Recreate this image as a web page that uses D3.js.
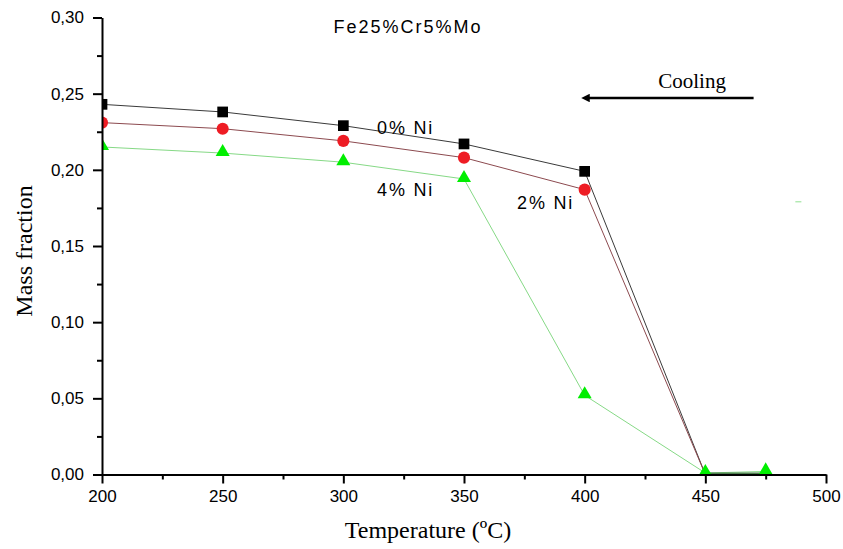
<!DOCTYPE html>
<html>
<head>
<meta charset="utf-8">
<script src="https://cdn.jsdelivr.net/npm/d3@7"></script>
<style>
  body { margin: 0; background: #fff; }
  svg { display: block; }
</style>
</head>
<body>
<div id="chart"></div>
<script>
// temperatures (°C) and mass fractions
const temps0 = [200, 250, 300, 350, 400, 450];
const ni0 = [0.243, 0.238, 0.229, 0.217, 0.199, 0.0];
const temps2 = [200, 250, 300, 350, 400, 450];
const ni2 = [0.231, 0.227, 0.219, 0.208, 0.187, 0.0];
const temps4 = [200, 250, 300, 350, 400, 450, 475];
const ni4 = [0.215, 0.211, 0.205, 0.194, 0.052, 0.001, 0.002];

const xTicks = [200, 250, 300, 350, 400, 450, 500];
const yTicks = [0, 0.05, 0.10, 0.15, 0.20, 0.25, 0.30];

const W = 843, H = 549;
const margin = { left: 102, right: 17, top: 17.5, bottom: 74.5 };

const svg = d3.select("#chart").append("svg")
    .attr("width", W).attr("height", H)
    .attr("viewBox", [0, 0, W, H]);

const x = d3.scaleLinear().domain([200, 500]).range([margin.left, W - margin.right]);
const y = d3.scaleLinear().domain([0, 0.30]).range([H - margin.bottom, margin.top]);

const defs = svg.append("defs");
defs.append("clipPath").attr("id", "plot")
    .append("rect")
    .attr("x", x(200)).attr("y", 0)
    .attr("width", x(500) - x(200) + 10).attr("height", y(0) + 10);

// 0 and 2 % Ni have no marker drawn at their zero point
const series = [
    { t: temps0, v: ni0, line: "#3a3a3a", fill: "#000000", shape: d3.symbolSquare, size: 115, zeroMark: false },
    { t: temps2, v: ni2, line: "#8c4a4f", fill: "#ee1c24", shape: d3.symbolCircle, size: 115, zeroMark: false },
    { t: temps4, v: ni4, line: "#86d986", fill: "#00ee00", shape: d3.symbolTriangle, size: 85, zeroMark: true }
];

const plot = svg.append("g").attr("clip-path", "url(#plot)");

const line = d3.line().x(d => x(d[0])).y(d => y(d[1]));

series.forEach(s => {
    const pts = s.t.map((t, i) => [t, s.v[i]]);
    plot.append("path")
        .datum(pts)
        .attr("fill", "none")
        .attr("stroke", s.line)
        .attr("stroke-width", 1)
        .attr("d", line);
});

// darker segment of the 4% line running along the axis
plot.append("line")
    .attr("x1", x(450)).attr("y1", y(0.0007))
    .attr("x2", x(475)).attr("y2", y(0.0007))
    .attr("stroke", "#4f7f4f").attr("stroke-width", 2);

series.forEach(s => {
    plot.selectAll(null)
        .data(s.t.map((t, i) => [t, s.v[i]]).filter(d => s.zeroMark || d[1] > 0))
        .join("path")
        .attr("transform", d => `translate(${x(d[0])},${y(d[1]) + (s.shape === d3.symbolTriangle ? -1 : 0)})`)
        .attr("d", d3.symbol().type(s.shape).size(s.size))
        .attr("fill", s.fill);
});

// axes
const fmt = d => d3.format(".2f")(d).replace(".", ",");

const xAxis = svg.append("g")
    .attr("transform", `translate(0,${y(0)})`)
    .call(d3.axisBottom(x).tickValues(xTicks).tickSize(9).tickSizeOuter(0).tickPadding(4));
svg.append("g")
    .attr("transform", `translate(0,${y(0)})`)
    .call(d3.axisBottom(x).tickValues(d3.range(225, 500, 50)).tickSize(5).tickFormat(""))
    .call(g => g.select(".domain").remove());

const yAxis = svg.append("g")
    .attr("transform", `translate(${x(200)},0)`)
    .call(d3.axisLeft(y).tickValues(yTicks).tickFormat(fmt).tickSize(9).tickSizeOuter(0).tickPadding(9));
svg.append("g")
    .attr("transform", `translate(${x(200)},0)`)
    .call(d3.axisLeft(y).tickValues(d3.range(0.025, 0.3, 0.05)).tickSize(5).tickFormat(""))
    .call(g => g.select(".domain").remove());

svg.selectAll(".domain").attr("stroke", "#000").attr("stroke-width", 2);
svg.selectAll(".tick line").attr("stroke", "#000").attr("stroke-width", 2);
svg.selectAll(".tick text")
    .attr("fill", "#000")
    .style("font-family", "'Liberation Sans', Arial, sans-serif")
    .style("font-size", "17px");
xAxis.selectAll(".tick text").attr("dy", "0.85em");

// axis titles
const serif = "'Liberation Serif', 'Times New Roman', serif";
svg.append("text")
    .attr("x", 428).attr("y", 538)
    .attr("text-anchor", "middle")
    .style("font-family", serif)
    .style("font-size", "24px")
    .text("Temperature (ºC)");

svg.append("text")
    .attr("transform", "translate(32,251) rotate(-90)")
    .attr("text-anchor", "middle")
    .style("font-family", serif)
    .style("font-size", "24px")
    .text("Mass fraction");

// annotations
const sans = "'Liberation Sans', Arial, sans-serif";
svg.append("text")
    .attr("x", 408).attr("y", 33)
    .attr("text-anchor", "middle")
    .style("font-family", sans).style("font-size", "18px")
    .style("letter-spacing", "2px")
    .text("Fe25%Cr5%Mo");

const notes = [
    { t: 314, v: 0.2234, s: "0% Ni" },
    { t: 314, v: 0.1826, s: "4% Ni" },
    { t: 372, v: 0.174, s: "2% Ni" }
];
svg.selectAll(null).data(notes).join("text")
    .attr("x", d => x(d.t)).attr("y", d => y(d.v))
    .style("font-family", sans).style("font-size", "18px")
    .style("letter-spacing", "1.8px")
    .text(d => d.s);

svg.append("text")
    .attr("x", x(430.5)).attr("y", 88)
    .style("font-family", serif)
    .style("font-size", "21px")
    .text("Cooling");

defs.append("marker")
    .attr("id", "arrow")
    .attr("viewBox", "0 0 10 10")
    .attr("refX", 2).attr("refY", 5)
    .attr("markerWidth", 5.5).attr("markerHeight", 3.4)
    .attr("markerUnits", "strokeWidth")
    .attr("orient", "auto")
    .append("path").attr("d", "M0,0 L10,5 L0,10 Z").attr("fill", "#000");

svg.append("line")
    .attr("x1", x(470)).attr("y1", 98)
    .attr("x2", x(401.4)).attr("y2", 98)
    .attr("stroke", "#000").attr("stroke-width", 2.5)
    .attr("marker-end", "url(#arrow)");

// small stray green dash
svg.append("line")
    .attr("x1", x(487.3)).attr("x2", x(489.8))
    .attr("y1", y(0.179)).attr("y2", y(0.179))
    .attr("stroke", "#8fe08f").attr("stroke-width", 1);
</script>
</body>
</html>
